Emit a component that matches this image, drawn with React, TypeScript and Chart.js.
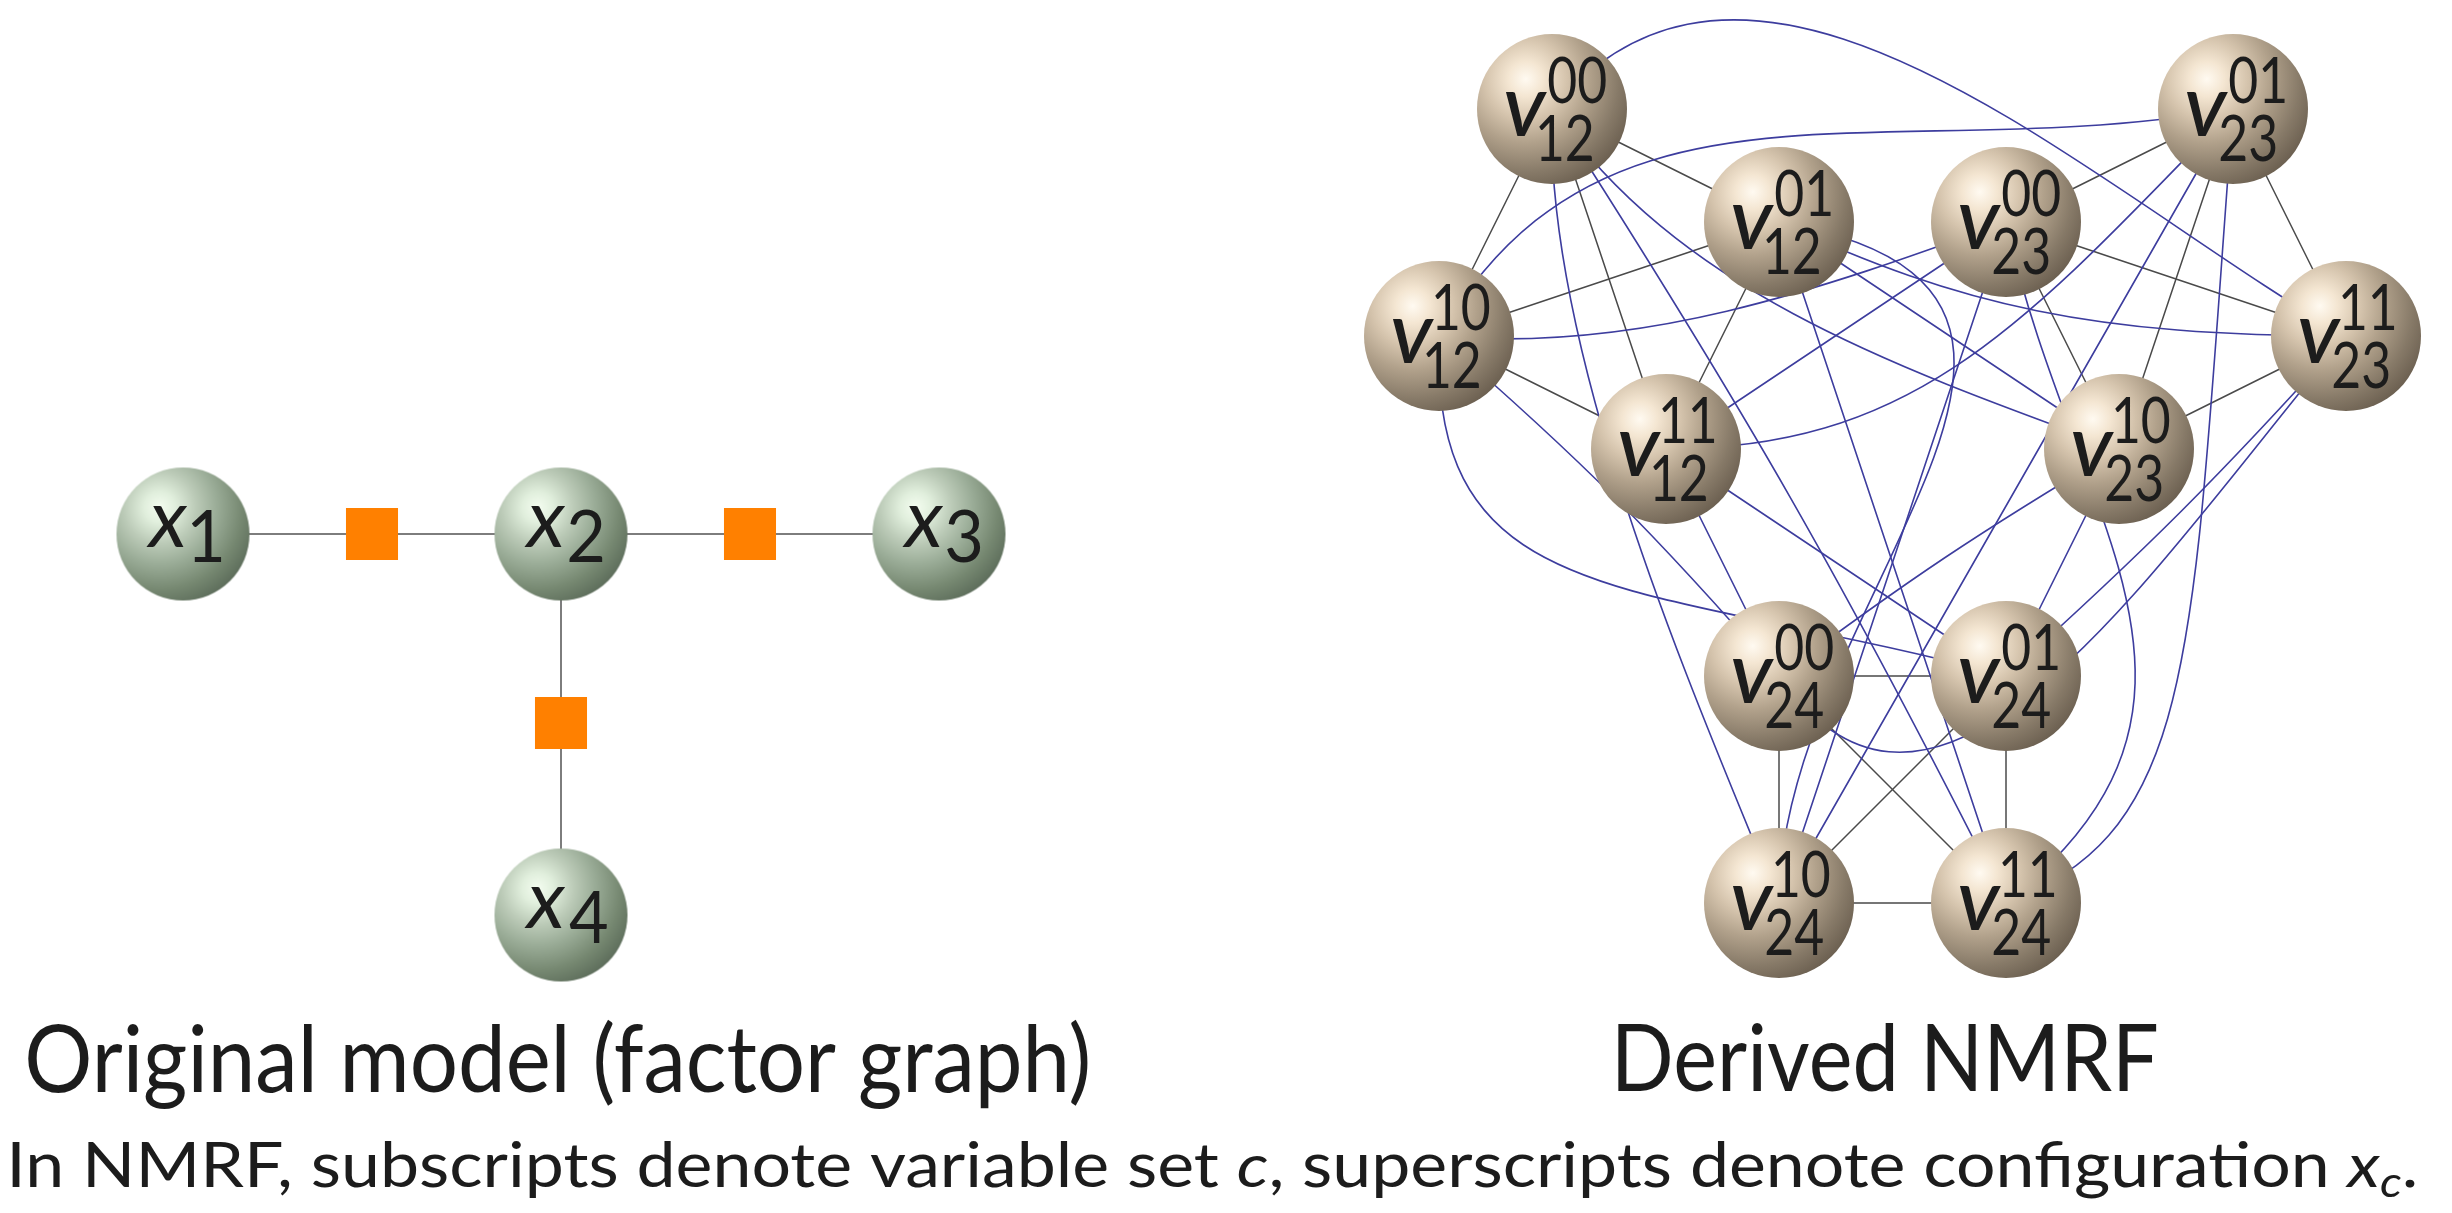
import React, { useEffect, useRef } from 'react';
import { Chart, registerables } from 'chart.js';

Chart.register(...registerables);

const CANVAS_W = 2452;
const CANVAS_H = 1213;

// ---------- Original model (factor graph) ----------
const varNames = ['1', '2', '3', '4'];
const varX = [183, 561, 939, 561];
const varY = [534, 534, 534, 915];
const factorX = [372, 750, 561];
const factorY = [534, 534, 723];
const factorScopes = [[0, 1], [1, 2], [1, 3]];

// ---------- Derived NMRF ----------
// 0 v12^00, 1 v12^01, 2 v12^10, 3 v12^11, 4 v23^00, 5 v23^01,
// 6 v23^10, 7 v23^11, 8 v24^00, 9 v24^01, 10 v24^10, 11 v24^11
const nmrfSup = ['00', '01', '10', '11', '00', '01', '10', '11', '00', '01', '10', '11'];
const nmrfSub = ['12', '12', '12', '12', '23', '23', '23', '23', '24', '24', '24', '24'];
const nmrfX = [1552, 1779, 1439, 1666, 2006, 2233, 2119, 2346, 1779, 2006, 1779, 2006];
const nmrfY = [109, 222, 336, 449, 222, 109, 449, 336, 676, 676, 903, 903];

// edges between configurations of the same factor
const sameFactorEdges = [
  [0, 1], [0, 2], [0, 3], [1, 2], [1, 3], [2, 3],
  [4, 5], [4, 6], [4, 7], [5, 6], [5, 7], [6, 7],
  [8, 9], [8, 10], [8, 11], [9, 10], [9, 11], [10, 11],
];
// inconsistent-configuration edges: [from, to, bend(deg)]
const crossBent = [
  [1, 6, 0], [1, 11, 0], [3, 4, 0], [3, 8, 0], [3, 9, 0], [4, 10, 0],
  [5, 10, 0], [6, 9, 0], [0, 11, 3], [2, 8, 4], [6, 8, -3], [7, 9, 3],
];
// inconsistent-configuration edges: [from, to, outAngle, outLen, inAngle, inLen]
const crossCurves = [
  [0, 6, 55, 220, 200, 250],
  [0, 7, -50, 320, 210, 300],
  [0, 10, 92, 250, 248, 200],
  [1, 7, 25, 200, 180, 250],
  [1, 10, 10, 400, 270, 300],
  [2, 4, 5, 200, 160, 200],
  [2, 5, -60, 330, 170, 350],
  [2, 9, 92, 280, 195, 380],
  [3, 5, 0, 250, 134, 300],
  [4, 11, 77.7, 304, -38.5, 326],
  [5, 11, 94.4, 543, -20.5, 208],
  [8, 7, 55, 280, 130, 300],
];

const FONT = 'Lato, "Open Sans", "DejaVu Sans", sans-serif';
const TEXT_COLOR = '#1c1c1c';

function makeBall(r: number, stops: [number, string][]) {
  const size = Math.round(2 * r) + 2;
  const c = document.createElement('canvas');
  c.width = size;
  c.height = size;
  const g = c.getContext('2d') as CanvasRenderingContext2D;
  const cx = size / 2;
  const cy = size / 2;
  const hx = cx - 0.35 * r;
  const hy = cy - 0.4 * r;
  const grad = g.createRadialGradient(hx, hy, 0, hx, hy, 1.55 * r);
  stops.forEach(([o, col]) => grad.addColorStop(o, col));
  g.fillStyle = grad;
  g.beginPath();
  g.arc(cx, cy, r, 0, Math.PI * 2);
  g.fill();
  return c;
}

function drawInk(ctx: CanvasRenderingContext2D, text: string, font: string, inkLeft: number, baseline: number, sx: number) {
  ctx.font = font;
  const m = ctx.measureText(text);
  ctx.save();
  ctx.translate(inkLeft, baseline);
  ctx.scale(sx, 1);
  ctx.textAlign = 'left';
  ctx.textBaseline = 'alphabetic';
  ctx.fillText(text, m.actualBoundingBoxLeft, 0);
  ctx.restore();
}

type Seg = { text: string; font: string; dy?: number };
function drawFitted(ctx: CanvasRenderingContext2D, segs: Seg[], left: number, baseline: number, width: number) {
  let total = 0;
  const widths = segs.map((s) => {
    ctx.font = s.font;
    const w = ctx.measureText(s.text).width;
    total += w;
    return w;
  });
  const first = segs[0];
  ctx.font = first.font;
  const lead = ctx.measureText(first.text).actualBoundingBoxLeft;
  const sc = width / total;
  ctx.save();
  ctx.translate(left, baseline);
  ctx.scale(sc, 1);
  ctx.textAlign = 'left';
  ctx.textBaseline = 'alphabetic';
  let x = lead;
  segs.forEach((s, i) => {
    ctx.font = s.font;
    ctx.fillText(s.text, x, s.dy || 0);
    x += widths[i];
  });
  ctx.restore();
}

const edgePlugin = {
  id: 'graphEdges',
  beforeDatasetsDraw(chart: any) {
    const { ctx } = chart;
    const xs = chart.scales.x;
    const ys = chart.scales.y;
    const P = (vx: number, vy: number) => [xs.getPixelForValue(vx), ys.getPixelForValue(vy)];
    ctx.save();
    ctx.lineCap = 'round';

    // factor graph edges
    ctx.strokeStyle = '#7d7d7d';
    ctx.lineWidth = 2;
    factorScopes.forEach(([a, b]) => {
      const [x0, y0] = P(varX[a], varY[a]);
      const [x1, y1] = P(varX[b], varY[b]);
      ctx.beginPath();
      ctx.moveTo(x0, y0);
      ctx.lineTo(x1, y1);
      ctx.stroke();
    });

    // same-factor edges
    ctx.strokeStyle = '#4a4a4a';
    ctx.lineWidth = 1.5;
    sameFactorEdges.forEach(([a, b]) => {
      const [x0, y0] = P(nmrfX[a], nmrfY[a]);
      const [x1, y1] = P(nmrfX[b], nmrfY[b]);
      ctx.beginPath();
      ctx.moveTo(x0, y0);
      ctx.lineTo(x1, y1);
      ctx.stroke();
    });

    // inconsistent-configuration edges
    ctx.strokeStyle = '#3d3d9e';
    ctx.lineWidth = 1.6;
    const cubic = (a: number, b: number, oa: number, ol: number, ia: number, il: number) => {
      const ax = nmrfX[a], ay = nmrfY[a], bx = nmrfX[b], by = nmrfY[b];
      const o = (oa * Math.PI) / 180;
      const n = (ia * Math.PI) / 180;
      const [p0x, p0y] = P(ax, ay);
      const [p1x, p1y] = P(ax + ol * Math.cos(o), ay + ol * Math.sin(o));
      const [p2x, p2y] = P(bx + il * Math.cos(n), by + il * Math.sin(n));
      const [p3x, p3y] = P(bx, by);
      ctx.beginPath();
      ctx.moveTo(p0x, p0y);
      ctx.bezierCurveTo(p1x, p1y, p2x, p2y, p3x, p3y);
      ctx.stroke();
    };
    crossBent.forEach(([a, b, bend]) => {
      const dx = nmrfX[b] - nmrfX[a];
      const dy = nmrfY[b] - nmrfY[a];
      const th = (Math.atan2(dy, dx) * 180) / Math.PI;
      const d = 0.3915 * Math.hypot(dx, dy);
      cubic(a, b, th - bend, d, th + 180 + bend, d);
    });
    crossCurves.forEach(([a, b, oa, ol, ia, il]) => cubic(a, b, oa, ol, ia, il));
    ctx.restore();
  },
};

const labelPlugin = {
  id: 'graphLabels',
  afterDatasetsDraw(chart: any) {
    const { ctx } = chart;
    const xs = chart.scales.x;
    const ys = chart.scales.y;
    ctx.save();
    ctx.fillStyle = TEXT_COLOR;

    varNames.forEach((nm, i) => {
      const px = xs.getPixelForValue(varX[i]);
      const py = ys.getPixelForValue(varY[i]);
      drawInk(ctx, 'x', `italic 82px ${FONT}`, px - 37, py + 13, 1);
      drawInk(ctx, nm, `72px ${FONT}`, px + 8, py + 28, 0.95);
    });

    nmrfSup.forEach((sup, i) => {
      const px = xs.getPixelForValue(nmrfX[i]);
      const py = ys.getPixelForValue(nmrfY[i]);
      drawInk(ctx, 'v', `italic 500 88px ${FONT}`, px - 47, py + 27, 1);
      drawInk(ctx, sup, `63px ${FONT}`, px - 4, py - 6, 0.82);
      drawInk(ctx, nmrfSub[i], `63px ${FONT}`, px - 13, py + 52, 0.82);
    });

    drawFitted(ctx, [{ text: 'Original model (factor graph)', font: `93px ${FONT}` }], 28, 1092, 1067);
    drawFitted(ctx, [{ text: 'Derived NMRF', font: `93px ${FONT}` }], 1618, 1091, 548);
    drawFitted(
      ctx,
      [
        { text: 'In NMRF, subscripts denote variable set ', font: `61px ${FONT}` },
        { text: 'c', font: `italic 61px ${FONT}` },
        { text: ', superscripts denote configuration ', font: `61px ${FONT}` },
        { text: 'x', font: `italic 61px ${FONT}` },
        { text: 'c', font: `italic 42px ${FONT}`, dy: 10 },
        { text: '.', font: `61px ${FONT}` },
      ],
      12,
      1187,
      2412
    );
    ctx.restore();
  },
};

export default function App() {
  const canvasRef = useRef<HTMLCanvasElement | null>(null);

  useEffect(() => {
    const canvas = canvasRef.current;
    if (!canvas) return;
    const greenBall = makeBall(66.5, [
      [0, '#f4fdf0'],
      [0.15, '#e1efdd'],
      [0.35, '#bccbb8'],
      [0.55, '#9bad98'],
      [0.8, '#768871'],
      [1, '#5c6c5a'],
    ]);
    const tanBall = makeBall(75, [
      [0, '#fffaf1'],
      [0.15, '#f4e6d2'],
      [0.35, '#d5c4ad'],
      [0.55, '#b1a18b'],
      [0.8, '#877a68'],
      [1, '#6a5e4f'],
    ]);

    const chart = new Chart(canvas, {
      type: 'scatter',
      data: {
        datasets: [
          {
            data: factorX.map((x, i) => ({ x, y: factorY[i] })),
            pointStyle: 'rect',
            pointRadius: 36.8,
            backgroundColor: '#ff8000',
            borderWidth: 0,
            clip: false,
          },
          {
            data: varX.map((x, i) => ({ x, y: varY[i] })),
            pointStyle: greenBall as any,
            pointRadius: 66,
            clip: false,
          },
          {
            data: nmrfX.map((x, i) => ({ x, y: nmrfY[i] })),
            pointStyle: tanBall as any,
            pointRadius: 75,
            clip: false,
          },
        ],
      },
      options: {
        animation: false,
        responsive: false,
        events: [],
        layout: { padding: 0 },
        plugins: { legend: { display: false }, tooltip: { enabled: false } },
        scales: {
          x: { type: 'linear', min: 0, max: CANVAS_W, display: false },
          y: { type: 'linear', min: 0, max: CANVAS_H, reverse: true, display: false },
        },
      },
      plugins: [edgePlugin, labelPlugin],
    });

    // make one data unit equal one canvas pixel: the scale limits follow the chart area
    const area = chart.chartArea;
    const sx: any = chart.options.scales!.x;
    const sy: any = chart.options.scales!.y;
    sx.min = area.left;
    sx.max = area.right;
    sy.min = area.top;
    sy.max = area.bottom;
    chart.update();

    return () => chart.destroy();
  }, []);

  return (
    <div style={{ position: 'fixed', left: 0, top: 0, width: CANVAS_W, height: CANVAS_H, background: '#ffffff' }}>
      <canvas ref={canvasRef} width={CANVAS_W} height={CANVAS_H} style={{ display: 'block' }} />
    </div>
  );
}
